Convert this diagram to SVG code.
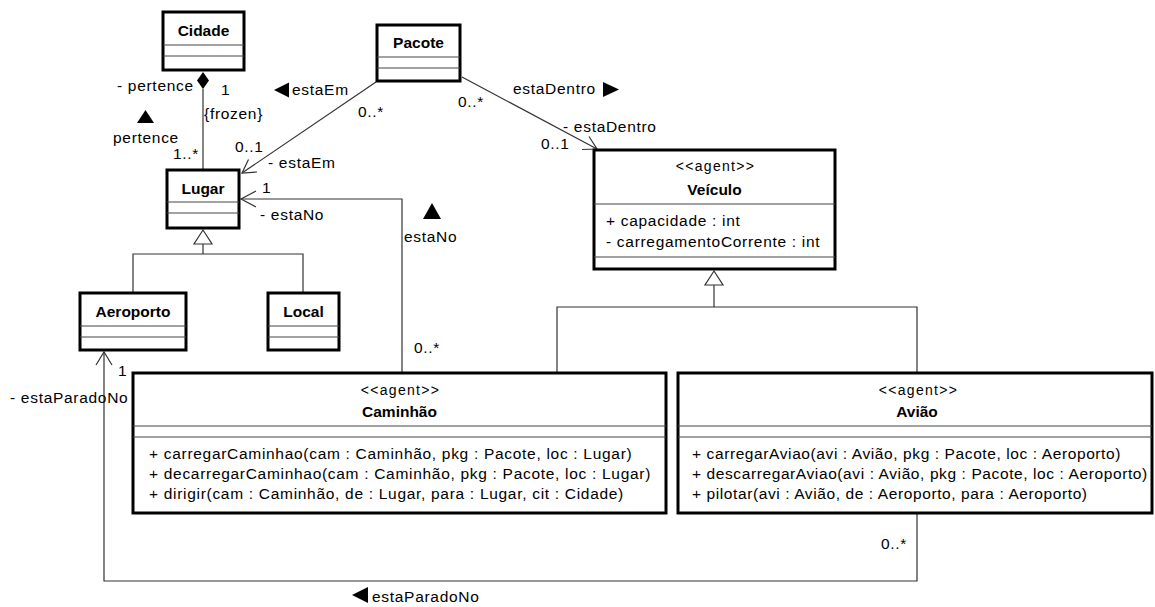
<svg xmlns="http://www.w3.org/2000/svg" width="1155" height="607" viewBox="0 0 1155 607">
  <style>
    text { font-family: "Liberation Sans", Arial, sans-serif; fill: #000; }
    .lbl { font-size: 15.5px; letter-spacing: 0.7px; }
    .tight { letter-spacing: 0.6px; }
    .name { font-size: 15.5px; font-weight: bold; text-anchor: middle; }
    .stereo { font-size: 14px; letter-spacing: 1.3px; text-anchor: middle; }
    .box { fill: #fff; stroke: #000; stroke-width: 3; }
    .comp { stroke: #444; stroke-width: 1; fill: none; }
    .edge { stroke: #333; stroke-width: 1.2; fill: none; }
    .hollow { fill: #fff; stroke: #333; stroke-width: 1.2; }
    .dir { fill: #000; stroke: none; }
  </style>

  <!-- connectors -->
  <g id="connectors">
    <!-- Cidade <>— Lugar (composition) -->
    <polygon points="203,72 209,80.5 203,89 197,80.5" fill="#000"/>
    <line class="edge" x1="203" y1="89" x2="203" y2="169"/>

    <!-- Pacote -> Lugar (estaEm) -->
    <line class="edge" x1="376" y1="82" x2="242" y2="173"/>
    <polyline class="edge" points="257,172 242,173 248.5,159.5"/>

    <!-- Pacote -> Veiculo (estaDentro) -->
    <line class="edge" x1="462" y1="77" x2="597" y2="149"/>
    <polyline class="edge" points="582,149.5 597,149 589,136.5"/>

    <!-- Caminhao -> Lugar (estaNo) -->
    <polyline class="edge" points="402,372 402,199 241,199"/>
    <polyline class="edge" points="256,191 241,199 256,207"/>

    <!-- Aviao -> Aeroporto (estaParadoNo) -->
    <polyline class="edge" points="917,514 917,581 104,581 104,352"/>
    <polyline class="edge" points="96,365 104,352 112,365"/>

    <!-- Lugar generalization -->
    <polygon class="hollow" points="203,230 212,244 194,244"/>
    <polyline class="edge" points="203,244 203,254"/>
    <polyline class="edge" points="133,292 133,254 303,254 303,292"/>

    <!-- Veiculo generalization -->
    <polygon class="hollow" points="714,271 723,285 705,285"/>
    <polyline class="edge" points="714,285 714,307"/>
    <polyline class="edge" points="557,372 557,307 917,307 917,372"/>

    <!-- association labels -->
    <text class="lbl" x="117" y="91">- pertence</text>
    <text class="lbl" x="221" y="95">1</text>
    <text class="lbl" x="204" y="119">{frozen}</text>
    <polygon class="dir" points="145.5,110 154,123 137,123"/>
    <text class="lbl" x="113" y="143">pertence</text>
    <text class="lbl" x="173" y="159">1..*</text>

    <polygon class="dir" points="274,90 289,82.5 289,97.5"/>
    <text class="lbl" x="292" y="95">estaEm</text>
    <text class="lbl" x="358" y="117">0..*</text>
    <text class="lbl" x="235" y="152">0..1</text>
    <text class="lbl" x="268" y="168">- estaEm</text>

    <text class="lbl" x="458" y="107">0..*</text>
    <text class="lbl" x="513" y="94">estaDentro</text>
    <polygon class="dir" points="619,89.5 603,82 603,97"/>
    <text class="lbl" x="563" y="132">- estaDentro</text>
    <text class="lbl" x="541" y="149">0..1</text>

    <text class="lbl" x="262" y="193">1</text>
    <text class="lbl" x="260" y="220">- estaNo</text>
    <polygon class="dir" points="432,203 441,219 423,219"/>
    <text class="lbl" x="404" y="242">estaNo</text>
    <text class="lbl" x="414" y="353">0..*</text>

    <text class="lbl" x="118" y="376">1</text>
    <text class="lbl" x="10" y="403">- estaParadoNo</text>
    <text class="lbl" x="881" y="549">0..*</text>
    <polygon class="dir" points="352,595 368,587 368,603"/>
    <text class="lbl" x="372" y="602">estaParadoNo</text>
  </g>

  <!-- classes -->
  <g id="cidade">
    <rect class="box" x="163" y="12" width="81" height="58"/>
    <line class="comp" x1="163" y1="45" x2="244" y2="45"/>
    <line class="comp" x1="163" y1="56" x2="244" y2="56"/>
    <text class="name" x="203.5" y="36">Cidade</text>
  </g>

  <g id="pacote">
    <rect class="box" x="377" y="25" width="83" height="56"/>
    <line class="comp" x1="377" y1="57" x2="460" y2="57"/>
    <line class="comp" x1="377" y1="68" x2="460" y2="68"/>
    <text class="name" x="418.5" y="48">Pacote</text>
  </g>

  <g id="lugar">
    <rect class="box" x="167" y="170" width="72" height="58"/>
    <line class="comp" x1="167" y1="202" x2="239" y2="202"/>
    <line class="comp" x1="167" y1="213" x2="239" y2="213"/>
    <text class="name" x="203" y="194">Lugar</text>
  </g>

  <g id="aeroporto">
    <rect class="box" x="80" y="293" width="106" height="57"/>
    <line class="comp" x1="80" y1="326" x2="186" y2="326"/>
    <line class="comp" x1="80" y1="337" x2="186" y2="337"/>
    <text class="name" x="133" y="317">Aeroporto</text>
  </g>

  <g id="local">
    <rect class="box" x="268" y="293" width="71" height="57"/>
    <line class="comp" x1="268" y1="326" x2="339" y2="326"/>
    <line class="comp" x1="268" y1="337" x2="339" y2="337"/>
    <text class="name" x="303.5" y="317">Local</text>
  </g>

  <g id="veiculo">
    <rect class="box" x="594" y="150" width="241" height="119"/>
    <line class="comp" x1="594" y1="204" x2="835" y2="204"/>
    <line class="comp" x1="594" y1="257" x2="835" y2="257"/>
    <text class="stereo" x="715.5" y="171">&lt;&lt;agent&gt;&gt;</text>
    <text class="name" x="714.5" y="195">Veículo</text>
    <text class="lbl" x="606" y="226">+ capacidade : int</text>
    <text class="lbl" x="606" y="247">- carregamentoCorrente : int</text>
  </g>

  <g id="caminhao">
    <rect class="box" x="133" y="373" width="533" height="140"/>
    <line class="comp" x1="133" y1="426" x2="666" y2="426"/>
    <line class="comp" x1="133" y1="437" x2="666" y2="437"/>
    <text class="stereo" x="400.5" y="395">&lt;&lt;agent&gt;&gt;</text>
    <text class="name" x="399.5" y="417">Caminhão</text>
    <text class="lbl" x="149" y="459">+ carregarCaminhao(cam : Caminhão, pkg : Pacote, loc : Lugar)</text>
    <text class="lbl" x="149" y="479">+ decarregarCaminhao(cam : Caminhão, pkg : Pacote, loc : Lugar)</text>
    <text class="lbl" x="149" y="499">+ dirigir(cam : Caminhão, de : Lugar, para : Lugar, cit : Cidade)</text>
  </g>

  <g id="aviao">
    <rect class="box" x="678" y="373" width="474" height="140"/>
    <line class="comp" x1="678" y1="426" x2="1152" y2="426"/>
    <line class="comp" x1="678" y1="437" x2="1152" y2="437"/>
    <text class="stereo" x="918.5" y="395">&lt;&lt;agent&gt;&gt;</text>
    <text class="name" x="917" y="417">Avião</text>
    <text class="lbl tight" x="692" y="459">+ carregarAviao(avi : Avião, pkg : Pacote, loc : Aeroporto)</text>
    <text class="lbl tight" x="692" y="479">+ descarregarAviao(avi : Avião, pkg : Pacote, loc : Aeroporto)</text>
    <text class="lbl tight" x="692" y="499">+ pilotar(avi : Avião, de : Aeroporto, para : Aeroporto)</text>
  </g>
</svg>
